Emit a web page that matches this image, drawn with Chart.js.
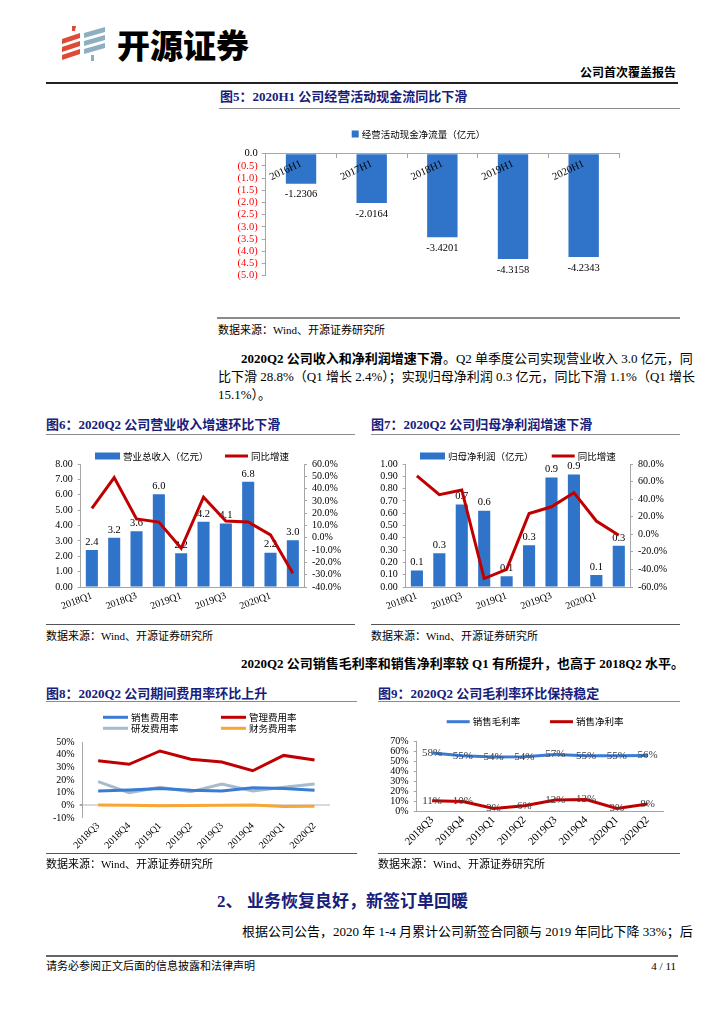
<!DOCTYPE html>
<html>
<head>
<meta charset="utf-8">
<script src="https://cdn.jsdelivr.net/npm/chart.js@4.4.0/dist/chart.umd.min.js"></script>
<style>
  body { margin: 0; background: #fff; }
  #page { position: relative; width: 724px; height: 1024px; overflow: hidden; background: #fff;
          font-family: "Liberation Serif", "Noto Sans CJK SC", serif; color: #000; }
  .t { position: absolute; white-space: nowrap; height: 18px; line-height: 18px; }
  .rule { position: absolute; height: 0; }
  .title { font-weight: bold; color: #17207a; font-size: 13px; }
  .src { font-size: 11px; }
  .body { font-size: 13px; }
  .jl { text-align: justify; text-align-last: justify; }
  canvas { position: absolute; }
</style>
</head>
<body>
<div id="page">
  <!-- header -->
  <svg style="position:absolute;left:58px;top:25px" width="50" height="40" viewBox="0 0 50 40">
    <g fill="#de4a37">
      <path d="M14 1 L18 1 L17 6 L14 6 Z"/>
      <path d="M4 14 L22 8 L22 13 L4 19 Z"/>
      <path d="M4 22 L22 16 L22 21 L4 27 Z"/>
      <path d="M4 30 L22 24 L22 29 L4 35 Z"/>
    </g>
    <g fill="#8eafc3">
      <path d="M26 8 L47 2 L47 7 L26 13 Z"/>
      <path d="M26 16 L47 10 L47 15 L26 21 Z"/>
      <path d="M26 24 L47 18 L47 23 L26 29 Z"/>
      <path d="M33 30 L36 30 L36 36 L33 36 Z"/>
    </g>
  </svg>
  <div class="t" style="left:117px;top:24px;height:40px;line-height:40px;font-family:'Noto Sans CJK SC';font-weight:900;font-size:33px;">开源证券</div>
  <div class="t" style="right:48px;top:64px;font-weight:bold;font-size:12px;">公司首次覆盖报告</div>
  <div class="rule" style="left:46px;width:632px;top:82px;border-top:2px solid #222;"></div>

  <!-- figure 5 -->
  <div class="t title" style="left:220px;top:88px;">图5：2020H1 公司经营活动现金流同比下滑</div>
  <div class="rule" style="left:219px;width:461px;top:108px;border-top:1.5px solid #8a8a8a;"></div>
  <canvas id="cashChart" width="436" height="180" style="left:200px;top:115px;width:436px;height:180px;"></canvas>
  <div class="rule" style="left:217px;width:463px;top:317px;border-top:2px solid #8a8a8a;"></div>
  <div class="t src" style="left:218px;top:321px;">数据来源：Wind、开源证券研究所</div>

  <div class="t body jl" style="left:241px;width:439px;top:350px;"><b>2020Q2 公司收入和净利润增速下滑</b>。Q2 单季度公司实现营业收入 3.0 亿元，同</div>
  <div class="t body jl" style="left:218px;width:462px;top:368px;">比下滑 28.8%（Q1 增长 2.4%）；实现归母净利润 0.3 亿元，同比下滑 1.1%（Q1 增长</div>
  <div class="t body" style="left:218px;top:386px;">15.1%）。</div>

  <!-- figures 6 and 7 -->
  <div class="t title" style="left:46px;top:416px;">图6：2020Q2 公司营业收入增速环比下滑</div>
  <div class="rule" style="left:46px;width:309px;top:434px;border-top:1.5px solid #8a8a8a;"></div>
  <div class="t title" style="left:371px;top:416px;">图7：2020Q2 公司归母净利润增速下滑</div>
  <div class="rule" style="left:371px;width:309px;top:434px;border-top:1.5px solid #8a8a8a;"></div>
  <canvas id="revenueChart" width="304" height="178" style="left:40px;top:440px;width:304px;height:178px;"></canvas>
  <canvas id="profitChart" width="305" height="178" style="left:365px;top:440px;width:305px;height:178px;"></canvas>
  <div class="rule" style="left:46px;width:309px;top:624px;border-top:1.5px solid #555;"></div>
  <div class="t src" style="left:46px;top:627px;">数据来源：Wind、开源证券研究所</div>
  <div class="rule" style="left:371px;width:309px;top:624px;border-top:1.5px solid #555;"></div>
  <div class="t src" style="left:371px;top:627px;">数据来源：Wind、开源证券研究所</div>

  <div class="t body" style="left:241px;top:655px;font-weight:bold;">2020Q2 公司销售毛利率和销售净利率较 Q1 有所提升，也高于 2018Q2 水平。</div>

  <!-- figures 8 and 9 -->
  <div class="t title" style="left:46px;top:685px;">图8：2020Q2 公司期间费用率环比上升</div>
  <div class="rule" style="left:46px;width:311px;top:701px;border-top:1.5px solid #8a8a8a;"></div>
  <div class="t title" style="left:378px;top:685px;">图9：2020Q2 公司毛利率环比保持稳定</div>
  <div class="rule" style="left:378px;width:302px;top:701px;border-top:1.5px solid #8a8a8a;"></div>
  <canvas id="expenseChart" width="300" height="150" style="left:46px;top:704px;width:300px;height:150px;"></canvas>
  <canvas id="marginChart" width="300" height="150" style="left:377px;top:704px;width:300px;height:150px;"></canvas>
  <div class="rule" style="left:46px;width:311px;top:853px;border-top:1.5px solid #555;"></div>
  <div class="t src" style="left:46px;top:855px;">数据来源：Wind、开源证券研究所</div>
  <div class="rule" style="left:378px;width:302px;top:853px;border-top:1.5px solid #555;"></div>
  <div class="t src" style="left:378px;top:855px;">数据来源：Wind、开源证券研究所</div>

  <!-- section 2 -->
  <div class="t" style="left:217px;top:891px;height:22px;line-height:22px;font-size:17px;font-weight:bold;color:#17207a;">2、</div>
  <div class="t" style="left:247px;top:891px;height:22px;line-height:22px;font-size:17px;font-weight:bold;color:#17207a;">业务恢复良好，新签订单回暖</div>
  <div class="t body jl" style="left:242px;width:436px;top:923px;">根据公司公告，2020 年 1-4 月累计公司新签合同额与 2019 年同比下降 33%；后</div>

  <!-- footer -->
  <div class="rule" style="left:46px;width:632px;top:955px;border-top:2px solid #666;"></div>
  <div class="t" style="left:46px;top:957px;font-size:11px;">请务必参阅正文后面的信息披露和法律声明</div>
  <div class="t" style="right:48px;top:957px;font-size:11px;">4 / 11</div>
</div>

<script>
// Fonts and colors
const SERIF = '"Liberation Serif", "Noto Sans CJK SC", serif';
const BLUE = "#2f74c9";
const RED = "#c00000";
const AXIS = "#a6a6a6";

// Figure 5: operating cash flow
const cashLabels = ["2016H1", "2017H1", "2018H1", "2019H1", "2020H1"];
const cashFlow = [-1.2306, -2.0164, -3.4201, -4.3158, -4.2343];

// Figures 6 and 7: quarterly revenue and net profit
const quarterLabels = ["2018Q1", "2018Q2", "2018Q3", "2018Q4", "2019Q1", "2019Q2", "2019Q3", "2019Q4", "2020Q1", "2020Q2"];
const revenue = [2.4, 3.2, 3.63, 6.03, 2.2, 4.24, 4.13, 6.84, 2.23, 3.04];
const revenueGrowth = [24, 49, 15.3, 12.8, -8.5, 33, 13.7, 12.8, 2.4, -28.8];
const netProfit = [0.135, 0.275, 0.67, 0.62, 0.088, 0.34, 0.89, 0.915, 0.097, 0.335];
const profitGrowth = [66.5, 45, 50.5, -50.4, -40, 23.6, 31.3, 47.4, 15.1, -1.1];

// Figures 8 and 9: expense ratios and margins
const rateLabels = ["2018Q3", "2018Q4", "2019Q1", "2019Q2", "2019Q3", "2019Q4", "2020Q1", "2020Q2"];
const sellingRate = [11.3, 12.1, 13.2, 11.9, 11.3, 13.9, 13.2, 11.9];
const adminRate = [35.2, 32.4, 42.9, 36.4, 34.2, 27.3, 39.4, 35.8];
const rdRate = [18.7, 10, 14.2, 10.8, 16.8, 11.3, 14.2, 16.8];
const financeRate = [0.2, 0.1, -0.3, -0.1, 0, 0.2, -0.9, -0.7];
const grossMargin = [58.2, 55.4, 54.2, 54.4, 56.6, 55.3, 55.4, 55.7];
const netMargin = [10.9, 10.1, 3.2, 5.9, 11.6, 12.1, 3.3, 7.7];

// Plugin that writes the value next to each bar or point
function valueLabelPlugin(sets) {
  return {
    id: "valueLabels",
    afterDatasetDraw(chart, args) {
      const ctx = chart.ctx;
      sets.filter(s => s.index === args.index).forEach(s => {
        const values = chart.data.datasets[s.index].data;
        ctx.save();
        ctx.font = s.font;
        ctx.fillStyle = s.color;
        ctx.textAlign = "center";
        ctx.textBaseline = "middle";
        args.meta.data.forEach((el, i) => {
          ctx.fillText(s.format(values[i]), el.x, el.y + s.dy);
        });
        ctx.restore();
      });
    }
  };
}

// Plugin that draws the legend items where the report has them
function legendPlugin(items, font) {
  return {
    id: "pageLegend",
    afterDraw(chart) {
      const ctx = chart.ctx;
      ctx.save();
      ctx.font = font;
      ctx.textBaseline = "middle";
      items.forEach((it, i) => {
        const ds = chart.data.datasets[i];
        if (it.kind === "rect") {
          ctx.fillStyle = ds.backgroundColor;
          ctx.fillRect(it.x, it.y - it.h / 2, it.w, it.h);
        } else {
          ctx.strokeStyle = ds.borderColor;
          ctx.lineWidth = 3;
          ctx.beginPath();
          ctx.moveTo(it.x, it.y);
          ctx.lineTo(it.x + it.w, it.y);
          ctx.stroke();
        }
        ctx.fillStyle = "#000";
        ctx.fillText(ds.label, it.x + it.w + 3, it.y);
      });
      ctx.restore();
    }
  };
}

function fixedWidth(w) { return scale => { scale.width = w; }; }
function fixedHeight(h) { return scale => { scale.height = h; }; }

const tickFont = { family: SERIF, size: 10 };
const noPlugins = { legend: { display: false }, tooltip: { enabled: false } };

// Figure 5
new Chart(document.getElementById("cashChart"), {
  type: "bar",
  data: {
    labels: cashLabels,
    datasets: [{
      label: "经营活动现金净流量（亿元）",
      data: cashFlow,
      backgroundColor: BLUE,
      categoryPercentage: 1,
      barPercentage: 0.43,
    }],
  },
  options: {
    responsive: false,
    animation: false,
    devicePixelRatio: 1,
    layout: { padding: { top: 38.7, right: 17, bottom: 19.3, left: 0 } },
    plugins: noPlugins,
    scales: {
      x: {
        position: { y: 0 },
        border: { color: AXIS, z: 1 },
        grid: { drawOnChartArea: false, tickLength: 4, color: AXIS, offset: true },
        ticks: { z: 1, font: { family: SERIF, size: 10.5 }, color: "#000", minRotation: 25, maxRotation: 25,
                 padding: 0, autoSkip: false },
      },
      y: {
        min: -5,
        max: 0,
        afterFit: fixedWidth(65.7),
        border: { color: AXIS },
        grid: { drawOnChartArea: false, tickLength: 4, color: AXIS },
        ticks: {
          stepSize: 0.5,
          autoSkip: false,
          font: { family: SERIF, size: 10.5 },
          padding: 4,
          color: ctx => (ctx.tick.value < 0 ? "#ff0000" : "#000"),
          callback: v => (v === 0 ? "0.0" : "(" + Math.abs(v).toFixed(1) + ")"),
        },
      },
    },
  },
  plugins: [
    valueLabelPlugin([{ index: 0, dy: 11, font: "10.5px " + SERIF, color: "#000", format: v => v.toFixed(4) }]),
    legendPlugin([{ kind: "rect", x: 151.7, y: 19, w: 7, h: 7 }], '9.5px "Noto Sans CJK SC"'),
  ],
});

// Function to build a bar + growth line chart (figures 6 and 7)
function createComboChart(id, barLabel, bars, growth, left, right, legendX) {
  return new Chart(document.getElementById(id), {
    type: "bar",
    data: {
      labels: quarterLabels,
      datasets: [
        { type: "bar", label: barLabel, data: bars, backgroundColor: BLUE, yAxisID: "y", order: 1,
          categoryPercentage: 1, barPercentage: 0.54 },
        { type: "line", label: "同比增速", data: growth, borderColor: RED, backgroundColor: RED, borderWidth: 3,
          pointRadius: 0, yAxisID: "y1", order: 0, tension: 0 },
      ],
    },
    options: {
      responsive: false,
      animation: false,
      devicePixelRatio: 1,
      layout: { padding: { top: 24, right: 0, bottom: 0, left: 0 } },
      plugins: noPlugins,
      scales: {
        x: {
          afterFit: fixedHeight(31),
          border: { color: AXIS },
          grid: { display: false, drawTicks: false },
          ticks: { font: tickFont, color: "#000", minRotation: 20, maxRotation: 20, padding: 3, autoSkip: false,
                   callback: (v, i) => (i % 2 === 0 ? quarterLabels[i] : "") },
        },
        y: {
          position: "left",
          min: left.min, max: left.max,
          afterFit: fixedWidth(40.7),
          border: { color: AXIS },
          grid: { drawOnChartArea: false, tickLength: 3, color: AXIS },
          ticks: { stepSize: left.step, autoSkip: false, font: tickFont, color: "#000", padding: 5,
                   callback: v => v.toFixed(2) },
        },
        y1: {
          position: "right",
          min: right.min, max: right.max,
          afterFit: fixedWidth(40),
          border: { color: AXIS },
          grid: { drawOnChartArea: false, tickLength: 3, color: AXIS },
          ticks: { stepSize: right.step, autoSkip: false, font: tickFont, color: "#000", padding: 5,
                   callback: v => v.toFixed(1) + "%" },
        },
      },
    },
    plugins: [
      valueLabelPlugin([{ index: 0, dy: -8, font: "10.5px " + SERIF, color: "#000", format: v => v.toFixed(1) }]),
      legendPlugin([
        { kind: "rect", x: legendX[0], y: 16, w: 25, h: 7 },
        { kind: "line", x: legendX[1], y: 16, w: 23 },
      ], '9.5px "Noto Sans CJK SC"'),
    ],
  });
}

createComboChart("revenueChart", "营业总收入（亿元）", revenue, revenueGrowth,
  { min: 0, max: 8, step: 1 }, { min: -40, max: 60, step: 10 }, [55, 185]);
createComboChart("profitChart", "归母净利润（亿元）", netProfit, profitGrowth,
  { min: 0, max: 1, step: 0.1 }, { min: -60, max: 80, step: 20 }, [55, 186.7]);

// Function to build a line dataset
function lineSet(label, data, color) {
  return { label, data, borderColor: color, backgroundColor: color, borderWidth: 3, pointRadius: 0, tension: 0 };
}

// Figure 8
new Chart(document.getElementById("expenseChart"), {
  type: "line",
  data: {
    labels: rateLabels,
    datasets: [
      lineSet("销售费用率", sellingRate, "#3a7bd5"),
      lineSet("管理费用率", adminRate, RED),
      lineSet("研发费用率", rdRate, "#a6bbcb"),
      lineSet("财务费用率", financeRate, "#f9a533"),
    ],
  },
  options: {
    responsive: false,
    animation: false,
    devicePixelRatio: 1,
    layout: { padding: { top: 38, right: 16, bottom: 0, left: 0 } },
    plugins: noPlugins,
    scales: {
      x: {
        offset: true,
        afterFit: fixedHeight(36),
        border: { display: false },
        grid: { display: false, drawTicks: false },
        ticks: { font: tickFont, color: "#000", minRotation: 45, maxRotation: 45, padding: 2, autoSkip: false },
      },
      y: {
        min: -10,
        max: 50,
        afterFit: fixedWidth(36.7),
        border: { color: AXIS },
        grid: {
          color: ctx => (ctx.tick && ctx.tick.value === 0 ? "#d9d9d9" : "rgba(0,0,0,0)"),
          lineWidth: ctx => (ctx.tick && ctx.tick.value === 0 ? 2 : 0),
          tickColor: AXIS,
          tickLength: 3,
        },
        ticks: { stepSize: 10, autoSkip: false, font: tickFont, color: "#000", padding: 5, callback: v => v + "%" },
      },
    },
  },
  plugins: [
    legendPlugin([
      { kind: "line", x: 57, y: 13.3, w: 25 },
      { kind: "line", x: 175, y: 13.3, w: 25 },
      { kind: "line", x: 57, y: 24.3, w: 25 },
      { kind: "line", x: 175, y: 24.3, w: 25 },
    ], '9.5px "Noto Sans CJK SC"'),
  ],
});

// Figure 9
new Chart(document.getElementById("marginChart"), {
  type: "line",
  data: {
    labels: rateLabels,
    datasets: [
      lineSet("销售毛利率", grossMargin, "#3a7bd5"),
      lineSet("销售净利率", netMargin, RED),
    ],
  },
  options: {
    responsive: false,
    animation: false,
    devicePixelRatio: 1,
    layout: { padding: { top: 37, right: 14, bottom: 0, left: 0 } },
    plugins: noPlugins,
    scales: {
      x: {
        offset: true,
        afterFit: fixedHeight(42.3),
        border: { color: AXIS },
        grid: { display: false, drawTicks: false },
        ticks: { font: { family: SERIF, size: 11 }, color: "#000", minRotation: 45, maxRotation: 45, padding: 2, autoSkip: false },
      },
      y: {
        min: 0,
        max: 70,
        afterFit: fixedWidth(39.7),
        border: { color: AXIS },
        grid: { drawOnChartArea: false, tickLength: 3, color: AXIS },
        ticks: { stepSize: 10, autoSkip: false, font: tickFont, color: "#000", padding: 5, callback: v => v + "%" },
      },
    },
  },
  plugins: [
    valueLabelPlugin([
      { index: 0, dy: 0, font: "11px " + SERIF, color: "#404040", format: v => Math.round(v) + "%" },
      { index: 1, dy: 0, font: "11px " + SERIF, color: "#404040", format: v => Math.round(v) + "%" },
    ]),
    legendPlugin([
      { kind: "line", x: 69.7, y: 17.7, w: 23 },
      { kind: "line", x: 173, y: 17.7, w: 23 },
    ], '9.5px "Noto Sans CJK SC"'),
  ],
});
</script>
</body>
</html>
